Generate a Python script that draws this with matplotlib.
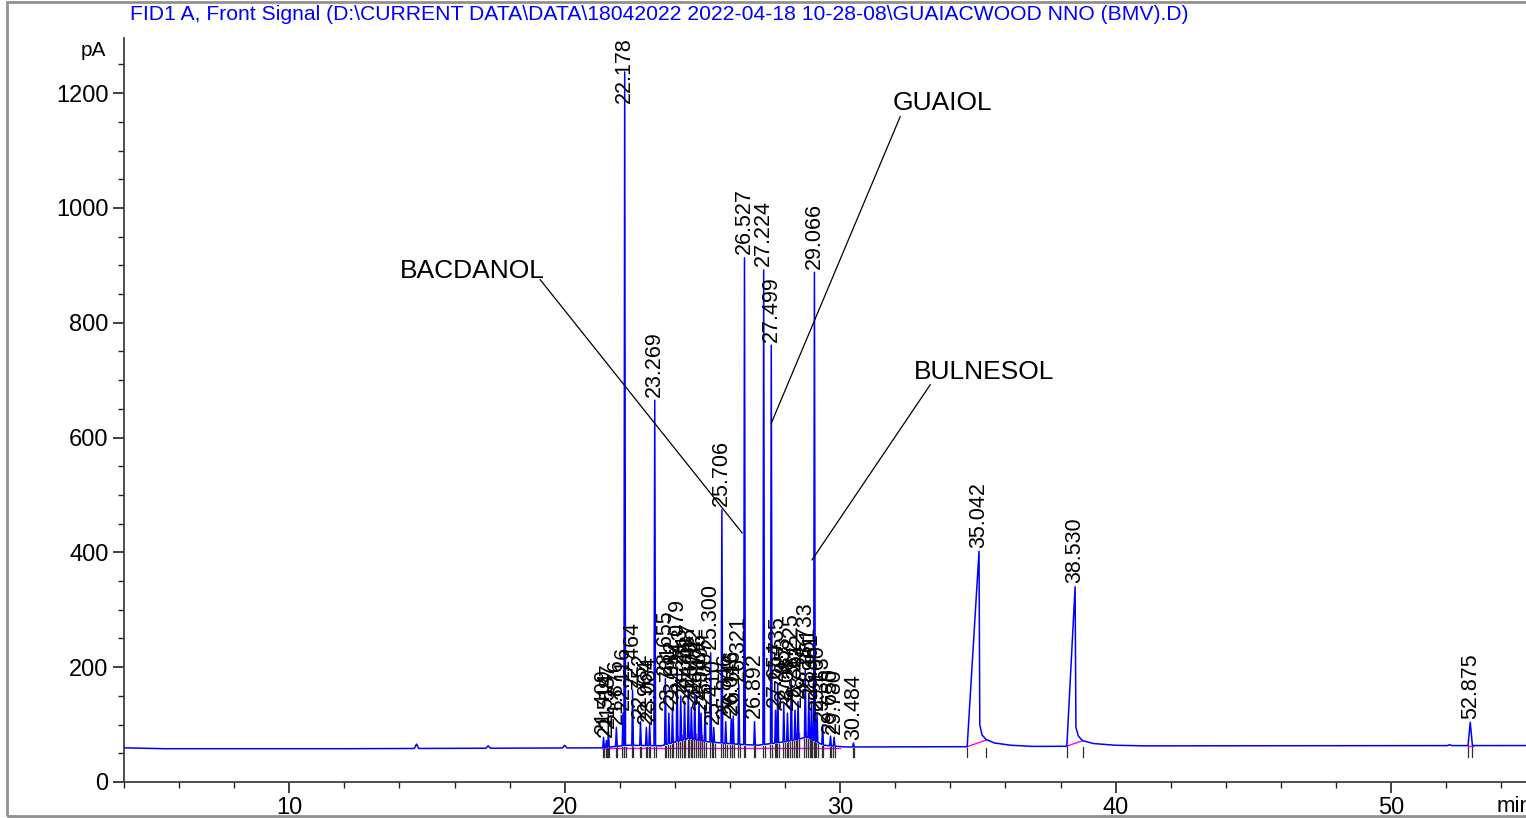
import numpy as np
import matplotlib
matplotlib.use("Agg")
import matplotlib.pyplot as plt
from matplotlib.patches import Rectangle
from matplotlib.ticker import MultipleLocator

plt.rcParams['font.family'] = ['Liberation Sans', 'DejaVu Sans']

# ---- data ----
title = "FID1 A, Front Signal (D:\\CURRENT DATA\\DATA\\18042022 2022-04-18 10-28-08\\GUAIACWOOD NNO (BMV).D)"

# baseline (min, pA)
base_t = [4.0, 5.5, 12.0, 21.3, 22.3, 23.5, 24.5, 25.2, 26.2, 27.0, 28.0, 28.8, 29.4, 30.2, 34.6, 42.0, 55.0]
base_v = [59.5, 58.0, 58.0, 59.5, 64.0, 63.0, 76.0, 70.0, 66.0, 64.0, 70.0, 78.0, 64.0, 61.0, 61.5, 63.0, 63.5]

# retention times and apex heights of the peaks
peak_rt = [14.62, 17.22, 20.00,
           21.409, 21.514, 21.587, 21.876, 22.116, 22.178, 22.464, 22.752, 22.964, 23.084,
           23.269, 23.655, 23.781, 23.912, 24.079, 24.213, 24.351, 24.487, 24.598, 24.722,
           24.876, 24.949, 25.097, 25.300, 25.410, 25.706, 25.846, 26.046, 26.116, 26.321,
           26.527, 26.892, 27.224, 27.499, 27.654, 27.735, 27.953, 28.087, 28.225, 28.361,
           28.472, 28.733, 28.861, 28.961, 29.066, 29.160, 29.363, 29.650, 29.780, 30.484,
           35.042, 38.530, 52.125, 52.875]
peak_h = [66, 63, 64,
          78, 72, 88, 95, 120, 1237, 160, 105, 95, 100,
          665, 180, 120, 130, 200, 150, 140, 160, 130, 150,
          140, 120, 130, 225, 95, 474, 105, 110, 115, 170,
          913, 105, 892, 761, 125, 170, 135, 120, 175, 125,
          140, 195, 150, 140, 888, 120, 100, 80, 78, 68,
          402, 340, 65, 104]
# peaks without a retention time label
unlabeled = [14.62, 17.22, 20.00, 52.125]

# long tailing on the two late peaks
tail35_t = [35.07, 35.15, 35.30, 35.60, 36.20, 37.00]
tail35_v = [100, 82, 74, 68, 64, 62]
tail38_t = [38.56, 38.65, 38.80, 39.20, 40.00, 41.00]
tail38_v = [95, 80, 72, 67, 64, 63]

# compound annotations: name, text anchor, line start, pointed position
ann_names = ["BACDANOL", "GUAIOL", "BULNESOL"]
ann_label = [(19.29, 890, 'right'), (31.92, 1183, 'left'), (32.69, 714, 'left')]
ann_text = [(19.11, 875), (32.18, 1159), (33.27, 692)]
ann_point = [(26.44, 434), (27.50, 625), (28.98, 387)]


def foot_width(rt):
    if rt == 35.042:
        return 0.43, 0.02
    if rt == 38.530:
        return 0.30, 0.02
    if rt < 21 or rt > 50:
        return 0.08, 0.08
    return 0.028, 0.03


# build the trace from the peak table
pts = []
starts, ends = [], []
for rt, h in zip(peak_rt, peak_h):
    wl, wr = foot_width(rt)
    b0 = np.interp(rt - wl, base_t, base_v)
    pts.append((rt - wl, b0))
    pts.append((rt, h))
    starts.append(rt - wl)
    if rt == 35.042:
        pts += list(zip(tail35_t, tail35_v))
        ends.append(35.30)
    elif rt == 38.530:
        pts += list(zip(tail38_t, tail38_v))
        ends.append(38.80)
    else:
        b1 = np.interp(rt + wr, base_t, base_v)
        pts.append((rt + wr, b1))
        ends.append(rt + wr)

busy = list(zip(starts, ends)) + [(35.0, 37.1), (38.5, 41.1)]
for t, v in zip(base_t, base_v):
    if not any(a <= t <= b for a, b in busy):
        pts.append((t, v))
pts.sort(key=lambda p: p[0])
trace_t = [p[0] for p in pts]
trace_v = [p[1] for p in pts]

fig = plt.figure(figsize=(15.26, 8.18), dpi=100)
ax = fig.add_axes([124 / 1526, 1 - 782 / 818, 1 - 124 / 1526, (782 - 38) / 818])

# integration baselines (magenta)
ax.plot([21.35, 30.0], [60, 60], color='#ff00ff', lw=1.0, zorder=2)
for rt, h in zip(peak_rt, peak_h):
    if 23.9 <= rt <= 25.0 or 28.3 <= rt <= 29.0:
        ax.plot([rt + 0.03, rt + 0.03], [60, np.interp(rt + 0.03, base_t, base_v) + 10],
                color='#ff00ff', lw=1.0, zorder=2)
ax.plot([34.61, 35.30], [61.5, 73], color='#ff00ff', lw=1.0, zorder=2)
ax.plot([38.20, 38.80], [62, 72], color='#ff00ff', lw=1.0, zorder=2)
ax.plot([52.79, 52.96], [63.5, 63.5], color='#ff00ff', lw=1.0, zorder=2)

# the signal
ax.plot(trace_t, trace_v, color='#0000ff', lw=1.1, zorder=3)

# peak start/end marks and retention time labels
for rt, h, s, e in zip(peak_rt, peak_h, starts, ends):
    if rt in unlabeled:
        continue
    for x in (s, e):
        ax.plot([x, x], [np.interp(x, base_t, base_v) - 2, 44], color='#303030', lw=0.9, zorder=4)
    # labels are kept below the top of the plot
    ax.text(rt, min(h + 6, 1182), "%.3f" % rt, rotation=90, ha='center', va='bottom',
            fontsize=15.5, color='black', zorder=5)

# compound names with leader lines
for (tx, ty), (px, py) in zip(ann_text, ann_point):
    ax.plot([tx, px], [ty, py], color='black', lw=0.9, zorder=5)
for name, (lx, ly, ha) in zip(ann_names, ann_label):
    ax.text(lx, ly, name, ha=ha, va='center', fontsize=19)

ax.set_xlim(4, 54.9)
ax.set_ylim(0, 1296)
ax.xaxis.set_major_locator(MultipleLocator(10))
ax.xaxis.set_minor_locator(MultipleLocator(2))
ax.yaxis.set_major_locator(MultipleLocator(200))
ax.yaxis.set_minor_locator(MultipleLocator(50))
for s in ['top', 'right']:
    ax.spines[s].set_visible(False)
for s in ['left', 'bottom']:
    ax.spines[s].set_color('#404040')
    ax.spines[s].set_linewidth(1.3)
ax.tick_params(which='major', length=8, width=1.2, color='#202020', labelsize=17, pad=3)
ax.tick_params(which='minor', length=4, width=1.0, color='#202020')
ax.set_yticks([0, 200, 400, 600, 800, 1000, 1200])
ax.patch.set_alpha(0)

fig.text(106 / 1526, 1 - 50 / 818, "pA", ha='right', va='center', fontsize=15)
fig.text(1497 / 1526, 1 - 806 / 818, "min", ha='left', va='center', fontsize=16)
fig.text(130 / 1526, 1 - 15 / 818, title, ha='left', va='center', fontsize=15.2, color='#0000ff')

# grey frame round the picture
fig.add_artist(Rectangle((7 / 1526, 2 / 818), 1.2, 1 - 4 / 818, transform=fig.transFigure,
                         fill=False, ec='#909090', lw=2.0))

fig.savefig("out.png", dpi=100)
